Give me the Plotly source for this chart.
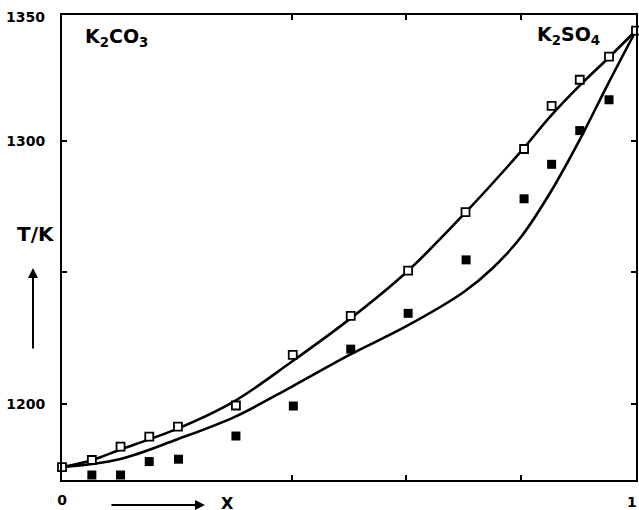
import plotly.graph_objects as go

# Data (x = mole fraction K2SO4, T in K)
liq_x = [0.0, 0.052, 0.102, 0.152, 0.202, 0.303, 0.402, 0.503, 0.603, 0.703, 0.805, 0.853, 0.902, 0.953, 1.0]
liq_T = [1176.0, 1178.7, 1183.8, 1187.6, 1191.4, 1199.4, 1218.6, 1233.4, 1250.6, 1272.8, 1296.8, 1313.2, 1323.1, 1331.9, 1341.8]

sol_x = [0.052, 0.102, 0.152, 0.203, 0.303, 0.403, 0.503, 0.603, 0.704, 0.805, 0.853, 0.902, 0.953]
sol_T = [1173.0, 1173.0, 1178.1, 1179.0, 1187.8, 1199.2, 1220.8, 1234.4, 1254.7, 1277.9, 1291.0, 1303.8, 1315.5]

upper_x = [0.0, 0.05, 0.1, 0.2, 0.3, 0.4, 0.5, 0.6, 0.7, 0.8, 0.85, 0.9, 0.95, 1.0]
upper_T = [1176.0, 1178.5, 1182.5, 1190.5, 1201.0, 1216.0, 1232.0, 1250.0, 1272.0, 1296.0, 1309.0, 1320.5, 1331.0, 1341.8]

lower_x = [0.0, 0.1, 0.2, 0.3, 0.4, 0.5, 0.6, 0.7, 0.75, 0.8, 0.85, 0.9, 0.95, 1.0]
lower_T = [1176.0, 1179.0, 1186.5, 1195.0, 1206.5, 1218.5, 1229.5, 1242.5, 1251.5, 1263.5, 1280.0, 1299.5, 1321.0, 1341.8]

y_tickvals = [1200, 1250, 1300, 1350]
y_ticktext = ["1200", "", "1300", "1350"]
x_tickvals = [0, 0.4, 0.6, 0.8, 1]
x_ticktext = ["0", "", "", "", "1"]

FONT = "DejaVu Sans"
BLK = "black"

fig = go.Figure()
for xs, ys in ((upper_x, upper_T), (lower_x, lower_T)):
    fig.add_trace(go.Scatter(x=xs, y=ys, mode="lines",
                             line=dict(color=BLK, width=2.6, shape="spline", smoothing=1.0),
                             showlegend=False, hoverinfo="skip"))
fig.add_trace(go.Scatter(x=liq_x, y=liq_T, mode="markers",
                         marker=dict(symbol="square", size=8, color="white",
                                     line=dict(color=BLK, width=1.8)),
                         showlegend=False, cliponaxis=False))
fig.add_trace(go.Scatter(x=sol_x, y=sol_T, mode="markers",
                         marker=dict(symbol="square", size=9, color=BLK,
                                     line=dict(color=BLK, width=0)),
                         showlegend=False))

tick_font = dict(family=FONT, size=14, color=BLK, weight="bold")
fig.update_xaxes(range=[0, 1], showgrid=False, zeroline=False, automargin=False,
                 showline=True, linecolor=BLK, linewidth=2, mirror="ticks",
                 ticks="inside", ticklen=5, tickwidth=1.5, tickcolor=BLK,
                 tickvals=x_tickvals[:-1], ticktext=x_ticktext[:-1], ticklabelstandoff=6,
                 tickfont=tick_font)
fig.update_yaxes(range=[1171.1, 1347.7], showgrid=False, zeroline=False, automargin=False,
                 showline=True, linecolor=BLK, linewidth=2, mirror="ticks",
                 ticks="inside", ticklen=5, tickwidth=1.5, tickcolor=BLK,
                 tickvals=y_tickvals[:3], ticktext=y_ticktext[:3], ticklabelstandoff=12,
                 tickfont=tick_font)

# "1350" sits just below the top border (range ends slightly below 1350)
fig.add_annotation(xref="paper", yref="paper", x=-0.026, y=0.9957, text=y_ticktext[3],
                   showarrow=False, xanchor="right", yanchor="middle", font=tick_font)
# "1" at the right end of the x axis
fig.add_annotation(xref="paper", yref="paper", x=1.0052, y=-0.047, text=x_ticktext[-1],
                   showarrow=False, xanchor="right", yanchor="middle", font=tick_font)

ann_font = dict(family=FONT, size=19, color=BLK, weight="bold")
fig.add_annotation(xref="paper", yref="paper", x=0.037, y=0.952,
                   text="K<sub>2</sub>CO<sub>3</sub>", showarrow=False,
                   xanchor="left", yanchor="middle", font=ann_font)
fig.add_annotation(xref="paper", yref="paper", x=0.94, y=0.956,
                   text="K<sub>2</sub>SO<sub>4</sub>", showarrow=False,
                   xanchor="right", yanchor="middle", font=ann_font)
fig.add_annotation(xref="paper", yref="paper", x=-0.045, y=0.528, text="T/K",
                   showarrow=False, xanchor="center", yanchor="middle",
                   font=dict(family=FONT, size=20, color=BLK, weight="bold"))
# vertical arrow next to T/K
fig.add_annotation(xref="paper", yref="paper", x=-0.0505, y=0.456, text="",
                   showarrow=True, ax=0, ay=82, arrowhead=2, arrowsize=1,
                   arrowwidth=2, arrowcolor=BLK)
# horizontal arrow for X
fig.add_annotation(xref="paper", yref="paper", x=0.249, y=-0.054, text="",
                   showarrow=True, ax=-95, ay=0, arrowhead=2, arrowsize=1,
                   arrowwidth=2, arrowcolor=BLK)
fig.add_annotation(xref="paper", yref="paper", x=0.289, y=-0.05, text="X",
                   showarrow=False, xanchor="center", yanchor="middle",
                   font=dict(family=FONT, size=16, color=BLK, weight="bold"))

fig.update_layout(width=639, height=510,
                  margin=dict(l=62, r=3, t=15, b=30),
                  plot_bgcolor="white", paper_bgcolor="white")

fig.write_html("out.html", config={"displayModeBar": False},
               post_script="document.body.style.margin='0';"
                           "document.body.style.overflow='hidden';")
